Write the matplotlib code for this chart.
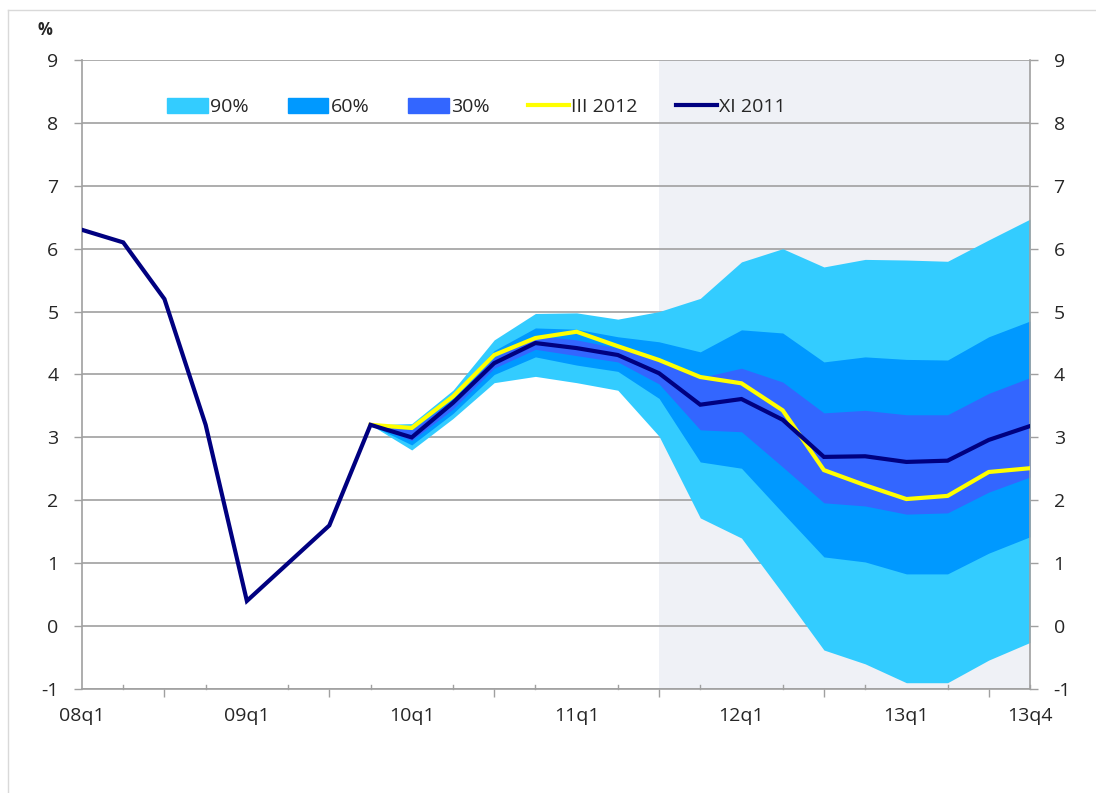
import numpy as np
import matplotlib
matplotlib.use("Agg")
import matplotlib.pyplot as plt
from matplotlib.lines import Line2D
from matplotlib.patches import Patch

plt.rcParams['font.family'] = ['Open Sans', 'DejaVu Sans']
plt.rcParams['axes.unicode_minus'] = False

quarters = ['08q1', '08q2', '08q3', '08q4', '09q1', '09q2', '09q3', '09q4',
            '10q1', '10q2', '10q3', '10q4', '11q1', '11q2', '11q3', '11q4',
            '12q1', '12q2', '12q3', '12q4', '13q1', '13q2', '13q3', '13q4']
shown_labels = ['08q1', '09q1', '10q1', '11q1', '12q1', '13q1', '13q4']

# XI 2011 forecast (whole period)
xi2011 = [6.3, 6.1, 5.2, 3.2, 0.4, 1.0, 1.6, 3.2, 3.0, 3.55, 4.18, 4.5,
          4.42, 4.31, 4.02, 3.52, 3.61, 3.28, 2.69, 2.7, 2.61, 2.63, 2.96, 3.18]

# III 2012 forecast and fan chart, from 09q4 onwards
fan_start = 7
iii2012 = [3.2, 3.15, 3.65, 4.31, 4.58, 4.68, 4.45, 4.23, 3.96, 3.86, 3.43,
           2.48, 2.24, 2.02, 2.07, 2.45, 2.51]
upper90 = [3.2, 3.22, 3.75, 4.55, 4.97, 4.98, 4.88, 5.0, 5.21, 5.79, 6.0,
           5.71, 5.83, 5.82, 5.8, 6.14, 6.47]
upper60 = [3.2, 3.18, 3.67, 4.38, 4.74, 4.72, 4.6, 4.52, 4.36, 4.71, 4.66,
           4.2, 4.28, 4.24, 4.23, 4.6, 4.85]
upper30 = [3.2, 3.12, 3.6, 4.27, 4.62, 4.55, 4.42, 4.25, 3.95, 4.1, 3.88,
           3.39, 3.43, 3.36, 3.36, 3.7, 3.95]
lower30 = [3.2, 2.95, 3.45, 4.1, 4.4, 4.3, 4.2, 3.85, 3.12, 3.09, 2.53,
           1.96, 1.91, 1.78, 1.8, 2.13, 2.37]
lower60 = [3.2, 2.88, 3.38, 4.0, 4.28, 4.15, 4.05, 3.62, 2.61, 2.51, 1.8,
           1.1, 1.02, 0.83, 0.83, 1.16, 1.42]
lower90 = [3.2, 2.8, 3.3, 3.87, 3.97, 3.87, 3.75, 3.02, 1.72, 1.4, 0.52,
           -0.38, -0.6, -0.9, -0.9, -0.54, -0.26]

forecast_from = 14  # 11q3

c90 = '#33ccff'
c60 = '#0099ff'
c30 = '#3366ff'
c_yellow = '#ffff00'
c_navy = '#000080'
grey = '#a0a0a0'
txt = '#262626'

fig = plt.figure(figsize=(10.96, 7.93), dpi=100)
ax = fig.add_axes([82 / 1096, 1 - 689 / 793, 948 / 1096, 629 / 793])

x = np.arange(len(quarters))
xf = x[fan_start:]

ax.axvspan(forecast_from, len(quarters) - 1, color='#eff1f6', lw=0, zorder=0)
for v in range(-1, 10):
    ax.axhline(v, color=grey, lw=1.2, zorder=0.5)

ax.fill_between(xf, lower90, upper90, color=c90, lw=0, zorder=1)
ax.fill_between(xf, lower60, upper60, color=c60, lw=0, zorder=1.1)
ax.fill_between(xf, lower30, upper30, color=c30, lw=0, zorder=1.2)
ax.plot(xf, iii2012, color=c_yellow, lw=3, zorder=3, solid_joinstyle='miter')
ax.plot(x, xi2011, color=c_navy, lw=3, zorder=4, solid_joinstyle='miter')

ax.set_xlim(0, len(quarters) - 1)
ax.set_ylim(-1, 9)
ax.set_yticks(range(-1, 10))
ax.set_xticks([quarters.index(q) for q in shown_labels])
ax.set_xticklabels(shown_labels)
ax.set_xticks(x[::2], minor=True)
ax.tick_params(axis='x', which='major', length=0, pad=13, labelsize=14, colors=txt)
ax.tick_params(axis='x', which='minor', length=6, width=1, direction='out', color=grey)
ax.tick_params(axis='y', which='major', left=True, right=True, labelleft=True,
               labelright=True, length=6, width=1, direction='out', color=grey,
               labelsize=14, labelcolor=txt, pad=11)
# small upward ticks at odd quarters
for q in x[1::2]:
    ax.plot([q, q], [-1, -0.93], color=grey, lw=1, zorder=5, clip_on=False)

for side in ['left', 'right', 'bottom']:
    ax.spines[side].set_color(grey)
    ax.spines[side].set_linewidth(1.2)
ax.spines['top'].set_visible(False)

handles = [Patch(color=c90), Patch(color=c60), Patch(color=c30),
           Line2D([], [], color=c_yellow, lw=3), Line2D([], [], color=c_navy, lw=3)]
labels = ['90%', '60%', '30%', 'III 2012', 'XI 2011']
ax.legend(handles, labels, loc='center left', bbox_to_anchor=(0.09, 0.925),
          ncol=5, frameon=False, fontsize=14, handlelength=2.1, handleheight=0.75,
          handletextpad=0.1, columnspacing=2.0, borderpad=0, borderaxespad=0,
          labelcolor=txt)

fig.text(45 / 1096, 1 - 30 / 793, '%', ha='center', va='center', fontsize=12,
         color=txt, fontweight='bold')

# outer frame lines
fig.add_artist(Line2D([8 / 1096, 1], [1 - 10 / 793, 1 - 10 / 793],
                      color='#d9d9d9', lw=1, transform=fig.transFigure))
fig.add_artist(Line2D([8 / 1096, 8 / 1096], [0, 1 - 10 / 793],
                      color='#d9d9d9', lw=1, transform=fig.transFigure))

fig.savefig('out.png', dpi=100)
